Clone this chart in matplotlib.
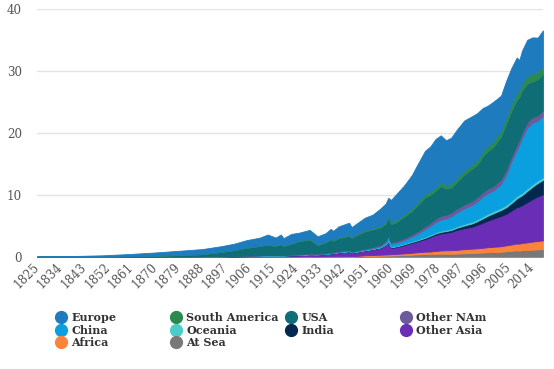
import matplotlib
matplotlib.use("Agg")
import matplotlib.pyplot as plt
from matplotlib.lines import Line2D

years = [1825, 1840, 1850, 1860, 1870, 1880, 1888, 1895, 1900, 1905, 1910, 1913,
         1916, 1918, 1919, 1922, 1925, 1929, 1932, 1935, 1937, 1938, 1940, 1944,
         1945, 1950, 1953, 1956, 1958, 1959, 1960, 1962, 1965, 1968, 1970, 1973,
         1975, 1977, 1979, 1981, 1983, 1985, 1988, 1991, 1993, 1995, 1997, 1999,
         2002, 2004, 2006, 2008, 2009, 2010, 2012, 2014, 2016, 2018]

# stacked bottom -> top
at_sea = [0] * 25 + [0.12, 0.15, 0.18, 0.2, 0.2, 0.22, 0.25, 0.3, 0.35, 0.4, 0.45,
                     0.45, 0.5, 0.52, 0.5, 0.5, 0.52, 0.58, 0.62, 0.65, 0.7, 0.75,
                     0.78, 0.82, 0.9, 0.98, 1.05, 1.0, 1.08, 1.12, 1.15, 1.2, 1.25]
africa = [0, 0, 0, 0, 0, 0, 0.01, 0.02, 0.02, 0.03, 0.03, 0.04, 0.04, 0.04, 0.04,
          0.05, 0.05, 0.06, 0.05, 0.06, 0.07, 0.07, 0.08, 0.09, 0.09, 0.12, 0.14,
          0.16, 0.18, 0.19, 0.2, 0.22, 0.25, 0.3, 0.33, 0.38, 0.4, 0.45, 0.5, 0.55,
          0.57, 0.6, 0.65, 0.7, 0.72, 0.75, 0.8, 0.83, 0.88, 0.95, 1.0, 1.1, 1.12,
          1.15, 1.2, 1.3, 1.35, 1.4]
other_asia = [0.005, 0.005, 0.005, 0.005, 0.01, 0.02, 0.03, 0.05, 0.07, 0.09, 0.12,
              0.14, 0.14, 0.15, 0.15, 0.18, 0.22, 0.3, 0.3, 0.38, 0.45, 0.48, 0.62,
              0.75, 0.55, 0.75, 0.9, 1.1, 1.5, 2.1, 1.0, 1.1, 1.35, 1.6, 1.75, 2.05,
              2.35, 2.6, 2.75, 2.85, 2.95, 3.2, 3.4, 3.55, 3.8, 4.05, 4.3, 4.55, 4.9,
              5.1, 5.5, 5.85, 6.0, 6.1, 6.5, 6.85, 7.2, 7.45]
india = [0, 0, 0, 0, 0, 0, 0, 0, 0.01, 0.01, 0.02, 0.02, 0.02, 0.02, 0.02, 0.03,
         0.03, 0.03, 0.03, 0.03, 0.04, 0.04, 0.04, 0.05, 0.05, 0.05, 0.06, 0.07,
         0.08, 0.09, 0.1, 0.11, 0.12, 0.14, 0.15, 0.18, 0.2, 0.22, 0.24, 0.26, 0.3,
         0.35, 0.42, 0.52, 0.58, 0.7, 0.78, 0.85, 0.95, 1.05, 1.2, 1.4, 1.55, 1.6,
         1.8, 2.0, 2.15, 2.3]
oceania = [0, 0, 0.01, 0.02, 0.02, 0.02, 0.02, 0.02, 0.02, 0.02, 0.03, 0.03, 0.03,
           0.03, 0.03, 0.03, 0.03, 0.04, 0.03, 0.04, 0.04, 0.04, 0.05, 0.05, 0.05,
           0.06, 0.07, 0.08, 0.09, 0.09, 0.1, 0.11, 0.12, 0.14, 0.15, 0.17, 0.18,
           0.19, 0.2, 0.21, 0.22, 0.24, 0.27, 0.3, 0.31, 0.32, 0.34, 0.35, 0.37,
           0.38, 0.4, 0.41, 0.41, 0.42, 0.42, 0.42, 0.43, 0.43]
china = [0, 0, 0, 0, 0, 0.005, 0.01, 0.01, 0.01, 0.01, 0.02, 0.02, 0.02, 0.02, 0.02,
         0.02, 0.03, 0.03, 0.03, 0.03, 0.04, 0.04, 0.05, 0.05, 0.04, 0.08, 0.1, 0.15,
         0.3, 0.6, 0.5, 0.45, 0.55, 0.7, 0.9, 1.2, 1.4, 1.6, 1.8, 1.8, 2.0, 2.2, 2.5,
         2.7, 2.9, 3.2, 3.3, 3.3, 3.8, 4.9, 6.3, 7.4, 8.0, 8.8, 9.8, 9.9, 9.6, 9.9]
other_nam = [0, 0, 0, 0, 0, 0.01, 0.01, 0.02, 0.02, 0.03, 0.04, 0.05, 0.05, 0.05,
             0.05, 0.06, 0.08, 0.09, 0.08, 0.09, 0.1, 0.1, 0.11, 0.13, 0.12, 0.15,
             0.17, 0.2, 0.22, 0.23, 0.25, 0.27, 0.3, 0.35, 0.4, 0.47, 0.5, 0.55, 0.6,
             0.6, 0.6, 0.62, 0.65, 0.65, 0.67, 0.7, 0.72, 0.74, 0.76, 0.8, 0.82, 0.85,
             0.8, 0.85, 0.87, 0.88, 0.88, 0.9]
usa = [0.01, 0.03, 0.04, 0.07, 0.14, 0.24, 0.35, 0.66, 0.92, 1.27, 1.49, 1.64, 1.44,
       1.73, 1.43, 1.76, 2.08, 2.25, 1.38, 1.66, 2.04, 1.81, 2.02, 2.24, 2.16, 2.77,
       2.79, 2.81, 2.75, 2.85, 2.9, 3.07, 3.46, 3.82, 4.17, 4.7, 4.5, 4.54, 4.79,
       4.23, 4.0, 4.3, 4.78, 5.18, 5.25, 5.8, 6.06, 6.3, 6.92, 7.4, 7.4, 7.2, 6.9,
       6.8, 6.2, 5.8, 5.8, 5.9]
south_america = [0, 0, 0, 0.005, 0.01, 0.01, 0.02, 0.02, 0.03, 0.04, 0.05, 0.06,
                 0.06, 0.06, 0.06, 0.07, 0.08, 0.1, 0.1, 0.11, 0.12, 0.12, 0.13, 0.14,
                 0.14, 0.2, 0.22, 0.25, 0.27, 0.28, 0.3, 0.32, 0.35, 0.4, 0.45, 0.5,
                 0.52, 0.55, 0.6, 0.6, 0.58, 0.6, 0.65, 0.68, 0.72, 0.78, 0.85, 0.9,
                 0.9, 0.95, 1.0, 1.1, 1.08, 1.15, 1.2, 1.3, 1.25, 1.2]
europe = [0.03, 0.11, 0.19, 0.35, 0.52, 0.7, 0.8, 0.9, 1.0, 1.2, 1.3, 1.6, 1.3, 1.5,
          1.2, 1.5, 1.3, 1.45, 1.3, 1.4, 1.6, 1.5, 1.8, 2.0, 1.6, 2.0, 2.2, 2.8, 3.0,
          2.9, 3.6, 4.2, 4.7, 5.4, 6.1, 7.0, 7.3, 7.8, 7.6, 7.2, 7.5, 7.8, 8.1, 7.8,
          7.6, 7.0, 6.5, 6.4, 5.7, 6.0, 5.9, 5.8, 4.9, 5.3, 5.9, 5.8, 5.5, 5.8]

series = [at_sea, africa, other_asia, india, oceania, china, other_nam, usa,
          south_america, europe]
names = ["At Sea", "Africa", "Other Asia", "India", "Oceania", "China",
         "Other NAm", "USA", "South America", "Europe"]
colors = ["#787878", "#fb843a", "#6a2db5", "#03284f", "#4ccbcb", "#0aa0e0",
          "#6d5a9c", "#0e6d75", "#2b8a52", "#1e7bbd"]
color_of = dict(zip(names, colors))

fig = plt.figure(figsize=(5.54, 3.69), dpi=100)
ax = fig.add_axes([0.067, 0.304, 0.913, 0.672])

polys = ax.stackplot(years, *series, colors=colors, linewidth=0.6)
for p, c in zip(polys, colors):
    p.set_edgecolor(c)

ax.set_xlim(1825, 2018)
ax.set_ylim(0, 40)
ax.set_yticks([0, 10, 20, 30, 40])
ax.set_xticks(list(range(1825, 2018, 9)))
ax.yaxis.grid(True, color="#e3e3e3", linewidth=1)
ax.set_axisbelow(True)
for s in ax.spines.values():
    s.set_visible(False)
ax.tick_params(length=0, labelsize=8.6, labelcolor="#555555")
ax.tick_params(axis="y", pad=11)
ax.tick_params(axis="x", pad=6)
for lab in ax.get_xticklabels() + ax.get_yticklabels():
    lab.set_fontfamily("DejaVu Serif")
for lab in ax.get_xticklabels():
    lab.set_rotation(45)
    lab.set_ha("right")
    lab.set_va("center")
    lab.set_rotation_mode("anchor")

# legend, 4 evenly spaced columns
columns = [["Europe", "China", "Africa"],
           ["South America", "Oceania", "At Sea"],
           ["USA", "India"],
           ["Other NAm", "Other Asia"]]
for i, col in enumerate(columns):
    handles = [Line2D([], [], ls="", marker="o", markersize=8.5,
                      color=color_of[n]) for n in col]
    fig.legend(handles, col, loc="upper left",
               bbox_to_anchor=((57 + 115 * i) / 554, 1 - 312 / 369),
               frameon=False, borderpad=0, borderaxespad=0, handlelength=0.8,
               handletextpad=0.5, labelspacing=0.15,
               prop={"family": "DejaVu Serif", "weight": "bold", "size": 8.0},
               labelcolor="#333333")

fig.savefig("out.png", dpi=100)
